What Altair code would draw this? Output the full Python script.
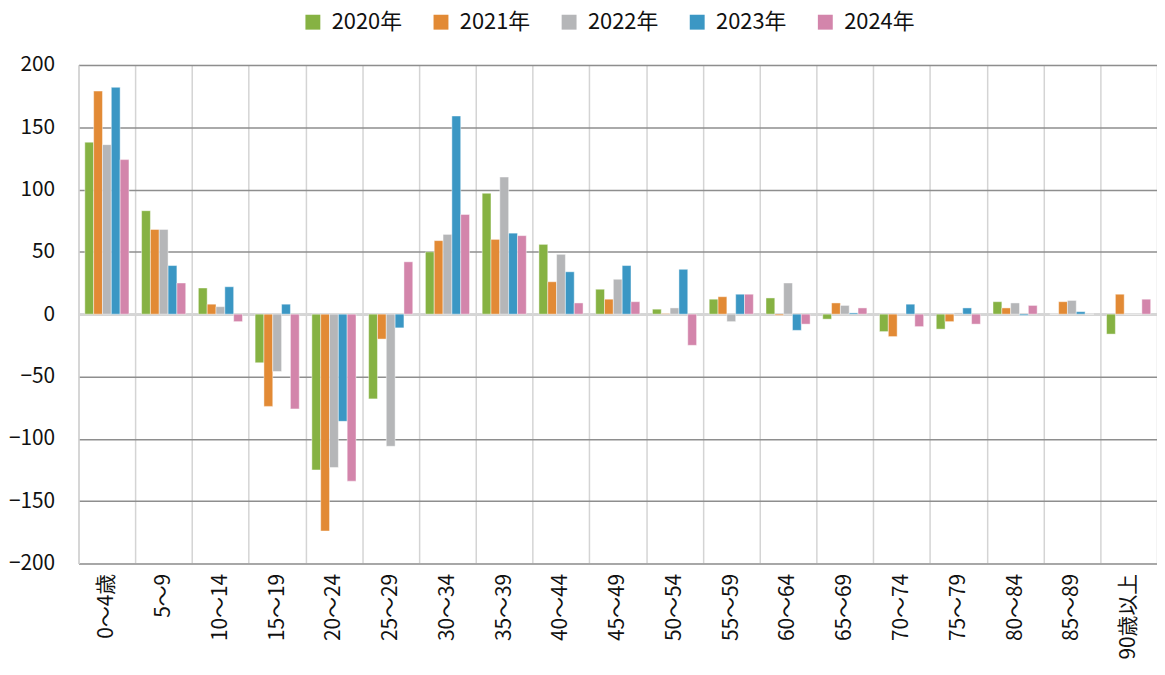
import altair as alt
import pandas as pd

categories = ["0～4歳", "5～9", "10～14", "15～19", "20～24", "25～29", "30～34",
              "35～39", "40～44", "45～49", "50～54", "55～59", "60～64", "65～69",
              "70～74", "75～79", "80～84", "85～89", "90歳以上"]
years = ["2020年", "2021年", "2022年", "2023年", "2024年"]
colors = ["#86b243", "#e28a35", "#b5b6b8", "#3b97c4", "#d385ab"]

v2020 = [138, 83, 21, -39, -125, -68, 50, 97, 56, 20, 4, 12, 13, -4, -14, -12, 10, 0, -16]
v2021 = [179, 68, 8, -74, -174, -20, 59, 60, 26, 12, 0.5, 14, -1, 9, -18, -6, 5, 10, 16]
v2022 = [136, 68, 6, -46, -123, -106, 64, 110, 48, 28, 5, -6, 25, 7, 0.5, 1, 9, 11, 0]
v2023 = [182, 39, 22, 8, -86, -11, 159, 65, 34, 39, 36, 16, -13, 1, 8, 5, -1, 2, 0]
v2024 = [124, 25, -6, -76, -134, 42, 80, 63, 9, 10, -25, 16, -8, 5, -10, -8, 7, 0, 12]

series = [v2020, v2021, v2022, v2023, v2024]
rows = []
for y, vals in zip(years, series):
    for c, v in zip(categories, vals):
        rows.append({"age": c, "year": y, "value": v})
df = pd.DataFrame(rows)

FONT = "Noto Sans CJK JP"

bars = alt.Chart(df).mark_bar(stroke="white", strokeWidth=1, strokeOpacity=0.45).encode(
    x=alt.X("age:N", sort=categories, title=None,
            scale=alt.Scale(paddingInner=0, paddingOuter=0),
            axis=alt.Axis(tickBand="extent", grid=True, gridColor="#d4d4d4", gridWidth=1.5,
                          ticks=False, domain=True, domainColor="#a8a8a8", domainWidth=1.5,
                          labelAngle=270, labelFontSize=21, labelPadding=10,
                          labelColor="#111111", labelFont=FONT)),
    xOffset=alt.XOffset("year:N", sort=years,
                        scale=alt.Scale(paddingInner=0, paddingOuter=0.715)),
    y=alt.Y("value:Q", title=None,
            scale=alt.Scale(domain=[-200, 200], nice=False),
            axis=alt.Axis(values=list(range(-200, 201, 50)), grid=True, gridColor="#8e8e8e",
                          gridWidth=1.5, ticks=False, domain=True, domainColor="#d4d4d4",
                          domainWidth=1.5, labelFontSize=21, labelPadding=24,
                          labelColor="#111111", labelFont=FONT)),
    color=alt.Color("year:N", sort=years, title=None,
                    scale=alt.Scale(domain=years, range=colors),
                    legend=alt.Legend(orient="none", legendX=225, legendY=-54,
                                      direction="horizontal", symbolType="square",
                                      symbolSize=225, symbolStrokeWidth=0,
                                      labelFontSize=22, labelFont=FONT, labelColor="#111111",
                                      columnPadding=28, labelOffset=8, labelLimit=300)),
)

zero = alt.Chart(df).mark_rule(color="#d6d6d6", strokeWidth=2.5).encode(y=alt.datum(0))

chart = alt.layer(zero, bars).properties(
    width=1086, height=502,
    autosize=alt.AutoSizeParams(type="none"),
    padding={"left": 71, "top": 55, "right": 0, "bottom": 100},
    background="white",
).configure_view(fill="#ececec", stroke=None).configure(font=FONT)

chart.save("out.html", embed_options={"renderer": "svg", "actions": False})
